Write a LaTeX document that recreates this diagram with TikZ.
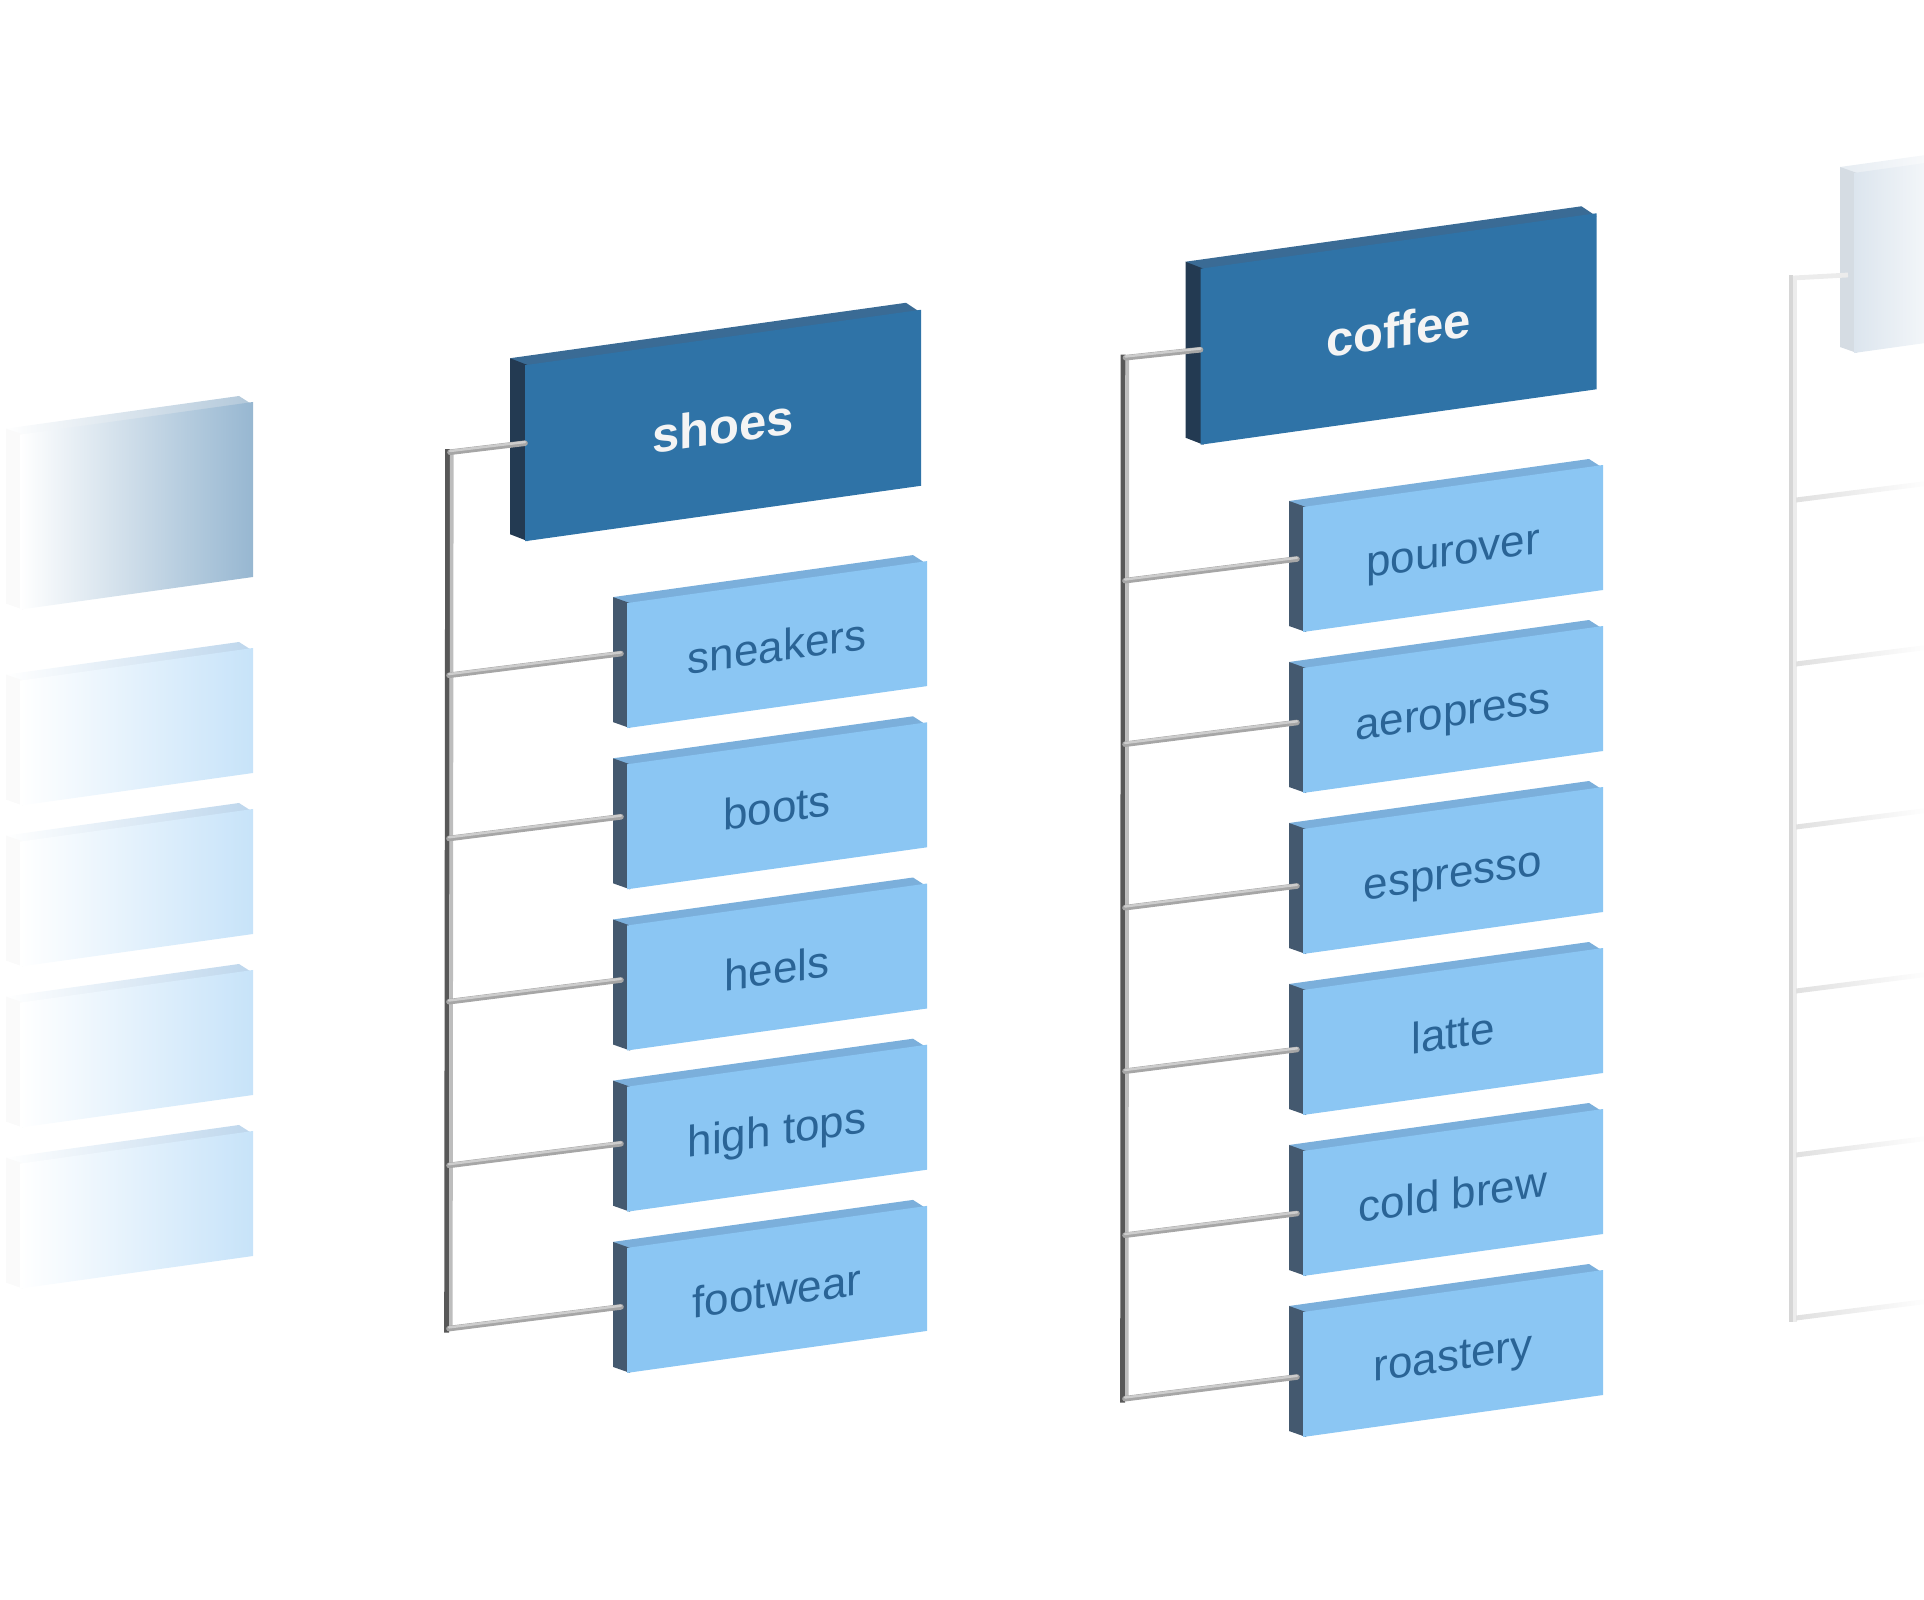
\documentclass[tikz,border=0pt]{standalone}
\usepackage{fontspec}
\setmainfont{Liberation Sans}
\usetikzlibrary{calc}
\pgfdeclarelayer{back}
\pgfsetlayers{back,main}
\definecolor{hdrfront}{HTML}{2F73A7}
\definecolor{hdrtop}{HTML}{3A6B95}
\definecolor{hdrside}{HTML}{233A52}
\definecolor{chfront}{HTML}{8BC6F3}
\definecolor{chtop}{HTML}{7BAFDB}
\definecolor{chside}{HTML}{44596F}
\definecolor{chtext}{HTML}{2A6496}
\definecolor{hdrtext}{HTML}{F4F4F4}
\definecolor{trunkdark}{HTML}{585858}
\definecolor{trunklight}{HTML}{BDBDBD}
\definecolor{branchdark}{HTML}{A6A6A6}
\definecolor{branchlight}{HTML}{CDCDCD}
\definecolor{fadehdr}{HTML}{97B7D1}
\definecolor{fadehdrtop}{HTML}{B2C8DA}
\definecolor{fadech}{HTML}{C7E3F9}
\definecolor{fadechtop}{HTML}{BDD6EC}
\definecolor{faderight}{HTML}{DCE5EE}
\definecolor{faderighttop}{HTML}{E6ECF2}
\definecolor{faderightside}{HTML}{D5DCE3}
\definecolor{rtrunkdark}{HTML}{D6D6D6}
\definecolor{rtrunklight}{HTML}{ECECEC}
\definecolor{rbranch}{HTML}{E0E0E0}
\tikzset{
  face/.style={yslant=0.14, inner sep=0pt, outer sep=0pt, text depth=0pt},
  hdrbox/.style={face, fill=hdrfront, minimum width=198pt, minimum height=88pt,
    text=hdrtext, text height=18pt, font=\fontsize{24.5}{28}\selectfont\bfseries},
  chbox/.style={face, fill=chfront, minimum width=150pt, minimum height=62.5pt,
    text=chtext, text height=17pt, font=\fontsize{22}{26}\selectfont},
  fadehdrbox/.style={face, left color=white, right color=fadehdr, minimum width=116.5pt, minimum height=87.5pt},
  fadechbox/.style={face, left color=white, right color=fadech, minimum width=116.5pt, minimum height=62.5pt},
  faderbox/.style={face, left color=faderight, right color=white, minimum width=55pt, minimum height=90pt},
  trunkd/.style={draw=trunkdark, line width=2.4pt},
  trunkl/.style={draw=trunklight, line width=1.8pt},
  branchbase/.style={draw=branchdark, line width=2.8pt, line cap=round},
  branchhi/.style={draw=branchlight, line width=1.2pt, line cap=round, transform canvas={yshift=0.6pt}},
  rtrunkd/.style={draw=rtrunkdark, line width=2pt},
  rtrunkl/.style={draw=rtrunklight, line width=2pt},
}
% #1 node, #2 side style, #3 top style, #4 depth offset
\newcommand\threedfaces[4]{%
  \path[#3] ($(#1.north west)+(#4)$) -- ($(#1.north east)+(#4)$) -- ($(#1.north east)+(0,3)$) -- ($(#1.north west)+(0,3)$) -- cycle;
  \path[#2] ($(#1.north west)+(#4)$) -- ($(#1.south west)+(#4)$) -- ($(#1.south west)+(3,0)$) -- ($(#1.north west)+(3,0)$) -- cycle;
}
\newcommand\branchline[2]{%
  \draw[branchbase] (#1) -- (#2);
  \draw[branchhi] (#1) -- (#2);
}
\begin{document}
\begin{tikzpicture}[x=0.5pt,y=-0.5pt]
\useasboundingbox (0,0) rectangle (1924,1600);

% ---------- left faded column ----------
\node[fadehdrbox] (L0) at (136.5,505.8) {};
\node[fadechbox] (L1) at (136.5,726.8) {};
\node[fadechbox] (L2) at (136.5,887.8) {};
\node[fadechbox] (L3) at (136.5,1048.8) {};
\node[fadechbox] (L4) at (136.5,1209.8) {};

% ---------- shoes column ----------
\node[hdrbox] (shoes) at (723,425.5) {shoes};
\node[chbox] (s1) at (777,644.6) {sneakers};
\node[chbox] (s2) at (777,805.8) {boots};
\node[chbox] (s3) at (777,967.0) {heels};
\node[chbox] (s4) at (777,1128.2) {high tops};
\node[chbox] (s5) at (777,1289.4) {footwear};

% ---------- coffee column ----------
\node[hdrbox] (coffee) at (1398.5,329) {coffee};
\node[chbox] (c1) at (1453,548.5) {pourover};
\node[chbox] (c2) at (1453,709.5) {aeropress};
\node[chbox] (c3) at (1453,870.5) {espresso};
\node[chbox] (c4) at (1453,1031.5) {latte};
\node[chbox] (c5) at (1453,1192.5) {cold brew};
\node[chbox] (c6) at (1453,1353.5) {roastery};

% ---------- right faded column ----------
\node[faderbox] (R0) at (1909,255.3) {};

% ---------- 3D faces ----------
\begin{pgfonlayer}{back}
  \threedfaces{L0}{fill=black!2}{left color=white, right color=fadehdrtop}{-14,-6}
  \foreach \n in {L1,L2,L3,L4}{\threedfaces{\n}{fill=black!2}{left color=white, right color=fadechtop}{-14,-6}}
  \threedfaces{shoes}{fill=hdrside}{fill=hdrtop}{-15,-7}
  \threedfaces{coffee}{fill=hdrside}{fill=hdrtop}{-15,-7}
  \foreach \n in {s1,s2,s3,s4,s5,c1,c2,c3,c4,c5,c6}{\threedfaces{\n}{fill=chside}{fill=chtop}{-14,-6}}
  \threedfaces{R0}{fill=faderightside}{left color=faderighttop, right color=white}{-14,-6}
\end{pgfonlayer}

% ---------- shoes connectors ----------
\coordinate (sTop) at ($(shoes.west)+(-75,-1)$);
\coordinate (sHdr) at ($(shoes.west)+(0,-10)$);
\foreach \n/\d in {s1/-12,s2/-10,s3/-8,s4/-5.5,s5/-3.5}{
  \coordinate (\n e) at ($(\n.west)+(-6,\d)$);
  \coordinate (\n t) at ($(\n e)+(-172,21.7)$);
}
\draw[trunkd] ($(sTop)+(-2.4,-3)$) -- ($(s5t)+(-2.4,4)$);
\draw[trunkl] ($(sTop)+(1.8,0)$) -- ($(s5t)+(1.8,0)$);
\branchline{sTop}{sHdr}
\foreach \n in {s1,s2,s3,s4,s5}{\branchline{\n t}{\n e}}

% ---------- coffee connectors ----------
\coordinate (cTop) at ($(coffee.west)+(-75,1)$);
\coordinate (cHdr) at ($(coffee.west)+(0,-7)$);
\foreach \n/\d in {c1/-10.5,c2/-8,c3/-5.5,c4/-3,c5/0,c6/2.5}{
  \coordinate (\n e) at ($(\n.west)+(-6,\d)$);
  \coordinate (\n t) at ($(\n e)+(-172,21.7)$);
}
\draw[trunkd] ($(cTop)+(-2.4,-3)$) -- ($(c6t)+(-2.4,4)$);
\draw[trunkl] ($(cTop)+(1.8,0)$) -- ($(c6t)+(1.8,0)$);
\branchline{cTop}{cHdr}
\foreach \n in {c1,c2,c3,c4,c5,c6}{\branchline{\n t}{\n e}}

% ---------- right faded connectors ----------
\coordinate (rTop) at ($(R0.west)+(-61,15)$);
\coordinate (rHdr) at ($(R0.west)+(-6,12)$);
\coordinate (rBot) at (1793,1322);
\draw[rtrunkd] ($(rTop)+(-2,-3)$) -- ($(rBot)+(-2,0)$);
\draw[rtrunkl] ($(rTop)+(2,0)$) -- ($(rBot)+(2,0)$);
\draw[draw=rtrunklight, line width=2.4pt] (rTop) -- (rHdr);
\foreach \y [count=\k] in {500,664,827,991,1155,1318}{
  \coordinate (r\k) at (1796,\y);
  \shade[left color=rbranch, right color=white]
    ($(r\k)+(0,-2.5)$) -- ++(134,-17) -- ++(0,5) -- ($(r\k)+(0,2.5)$) -- cycle;
}
\end{tikzpicture}
\end{document}
